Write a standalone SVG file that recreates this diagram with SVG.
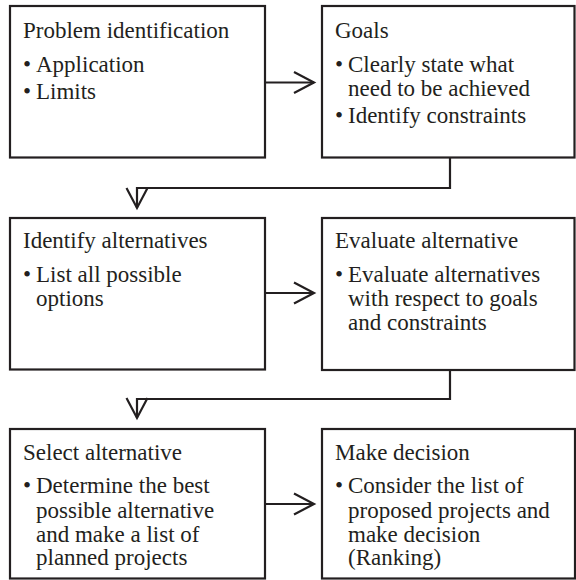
<svg xmlns="http://www.w3.org/2000/svg" width="576" height="580" viewBox="0 0 576 580">
<defs>
<style>
.box{fill:#fff;stroke:#231f20;stroke-width:2.2}
.con{fill:none;stroke:#231f20;stroke-width:2.2}
</style>
<marker id="arr" markerUnits="userSpaceOnUse" markerWidth="30" markerHeight="30" refX="21" refY="12" orient="auto">
<path d="M1,1.5 L21,12 L1,22.5" fill="none" stroke="#231f20" stroke-width="2.2"/>
</marker>
</defs>
<rect width="576" height="580" fill="#fff"/>
<g id="connectors">
<path class="con" d="M265,82.5 H314" marker-end="url(#arr)"/>
<path class="con" d="M265,293 H314" marker-end="url(#arr)"/>
<path class="con" d="M265,504 H314" marker-end="url(#arr)"/>
<path class="con" d="M450,158 V188 H137 V208" marker-end="url(#arr)"/>
<path class="con" d="M450,370 V399 H137 V418" marker-end="url(#arr)"/>
</g>
<g font-family="Liberation Serif, 'Times New Roman', serif" font-size="23" fill="#231f20">
<g id="problem">
<rect class="box" x="10" y="6" width="255" height="151.5"/>
<text x="23" y="37.7">Problem identification</text>
<text x="23" y="71.7">•</text><text x="36" y="71.7">Application</text>
<text x="23" y="99.3">•</text><text x="36" y="99.3">Limits</text>
</g>
<g id="goals">
<rect class="box" x="322" y="6" width="252.5" height="151.5"/>
<text x="335" y="37.5">Goals</text>
<text x="335" y="71.7">•</text><text x="348" y="71.7">Clearly state what</text>
<text x="348" y="95.7">need to be achieved</text>
<text x="335" y="123.3">•</text><text x="348" y="123.3">Identify constraints</text>
</g>
<g id="identify">
<rect class="box" x="10" y="218" width="255" height="151.5"/>
<text x="23" y="248.3">Identify alternatives</text>
<text x="23" y="281.7">•</text><text x="36" y="281.7">List all possible</text>
<text x="36" y="305.9">options</text>
</g>
<g id="evaluate">
<rect class="box" x="322" y="218" width="252.5" height="152"/>
<text x="335" y="248.3">Evaluate alternative</text>
<text x="335" y="281.7">•</text><text x="348" y="281.7">Evaluate alternatives</text>
<text x="348" y="305.9">with respect to goals</text>
<text x="348" y="330">and constraints</text>
</g>
<g id="select">
<rect class="box" x="10" y="429" width="255" height="149.5"/>
<text x="23" y="460">Select alternative</text>
<text x="23" y="493.3">•</text><text x="36" y="493.3">Determine the best</text>
<text x="36" y="517.5">possible alternative</text>
<text x="36" y="541.6">and make a list of</text>
<text x="36" y="565.4">planned projects</text>
</g>
<g id="decision">
<rect class="box" x="322" y="429" width="253" height="149.5"/>
<text x="335" y="460">Make decision</text>
<text x="335" y="493.3">•</text><text x="348" y="493.3">Consider the list of</text>
<text x="348" y="517.5">proposed projects and</text>
<text x="348" y="541.6">make decision</text>
<text x="348" y="565.4">(Ranking)</text>
</g>
</g>
</svg>
